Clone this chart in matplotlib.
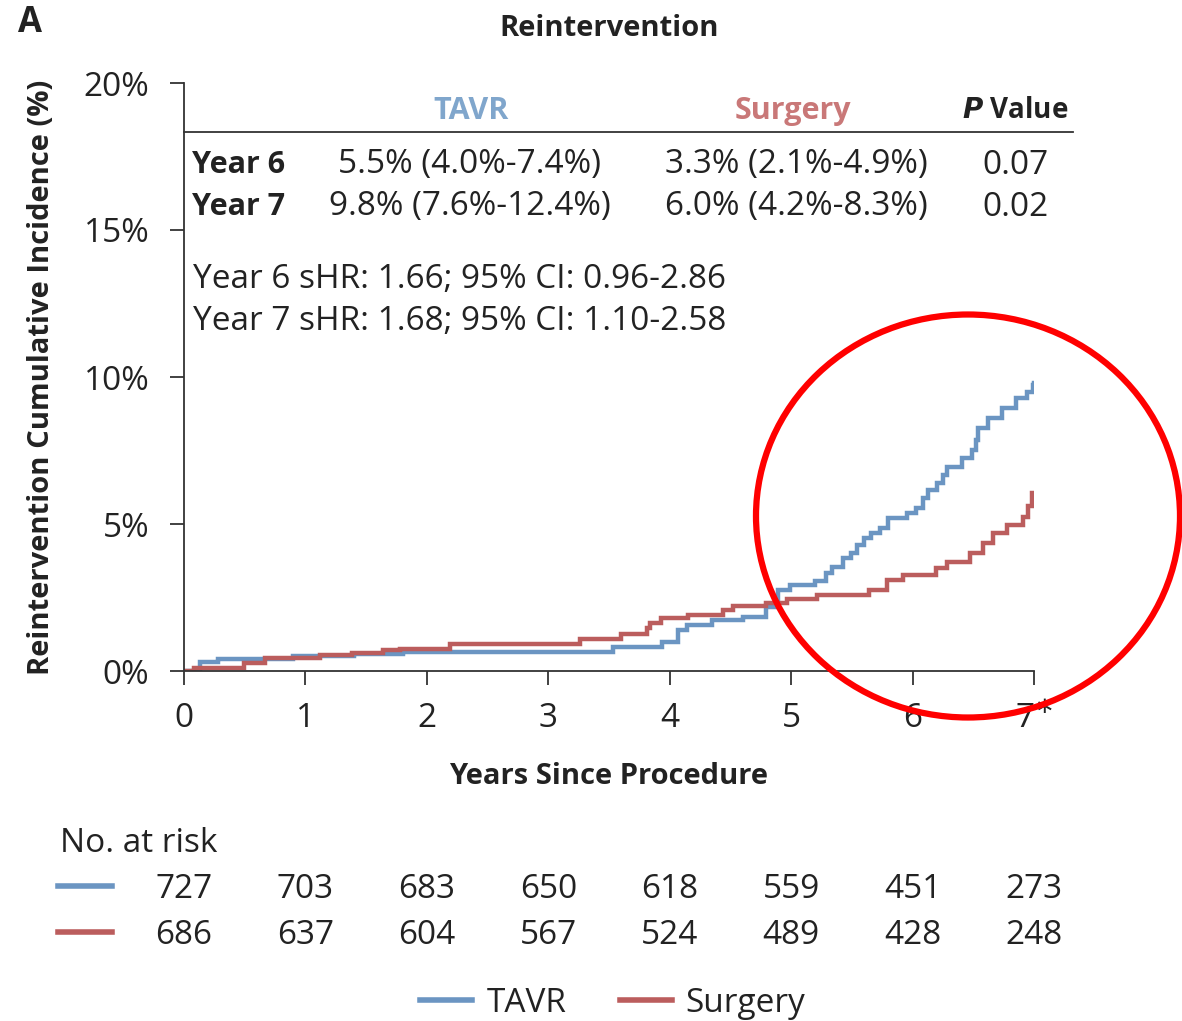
import matplotlib
matplotlib.use("Agg")
import matplotlib.pyplot as plt
from matplotlib.patches import Ellipse
import numpy as np

plt.rcParams['font.family'] = ['Open Sans', 'DejaVu Sans']

# ---- data ----
tavr_t = [0.0, 0.13, 0.28, 0.9, 1.4, 1.8, 3.53, 3.94, 4.07, 4.14, 4.35, 4.6, 4.79, 4.89, 4.99,
          5.2, 5.29, 5.34, 5.43, 5.49, 5.54, 5.6, 5.66, 5.73, 5.8, 5.95, 6.03, 6.09, 6.13,
          6.2, 6.25, 6.28, 6.41, 6.49, 6.52, 6.54, 6.62, 6.74, 6.85, 6.94, 6.99, 7.0]
tavr_y = [0.0, 0.32, 0.41, 0.50, 0.58, 0.66, 0.83, 1.0, 1.39, 1.56, 1.73, 1.84, 2.18, 2.75, 2.92,
          3.07, 3.33, 3.55, 3.84, 4.0, 4.29, 4.52, 4.69, 4.86, 5.2, 5.37, 5.54, 5.88, 6.16,
          6.39, 6.67, 6.95, 7.24, 7.52, 7.86, 8.26, 8.6, 8.94, 9.28, 9.5, 9.73, 9.8]
surg_t = [0.0, 0.08, 0.49, 0.67, 1.12, 1.38, 1.64, 1.78, 2.19, 3.26, 3.6, 3.81, 3.84, 3.93,
          4.15, 4.44, 4.52, 4.79, 4.97, 5.21, 5.64, 5.79, 5.92, 6.19, 6.28, 6.47, 6.58, 6.66,
          6.78, 6.91, 6.95, 6.98, 7.0]
surg_y = [0.0, 0.1, 0.28, 0.45, 0.54, 0.62, 0.70, 0.76, 0.92, 1.09, 1.25, 1.45, 1.62, 1.79,
          1.9, 2.07, 2.21, 2.32, 2.45, 2.58, 2.75, 3.1, 3.27, 3.5, 3.72, 4.0, 4.37, 4.69,
          4.96, 5.25, 5.6, 6.05, 6.05]

years = [0, 1, 2, 3, 4, 5, 6, 7]
xtick_labels = ['0', '1', '2', '3', '4', '5', '6', r'7$^{\ast}$']
yticks = [0, 5, 10, 15, 20]
risk_tavr = [727, 703, 683, 650, 618, 559, 451, 273]
risk_surg = [686, 637, 604, 567, 524, 489, 428, 248]

table_rows = ['Year 6', 'Year 7']
tavr_est = ['5.5% (4.0%-7.4%)', '9.8% (7.6%-12.4%)']
surg_est = ['3.3% (2.1%-4.9%)', '6.0% (4.2%-8.3%)']
pvals = ['0.07', '0.02']
shr_lines = ['Year 6 sHR: 1.66; 95% CI: 0.96-2.86', 'Year 7 sHR: 1.68; 95% CI: 1.10-2.58']

BLUE = '#6b95c2'
RED = '#bb5d5d'
BLUE_T = '#80a6cc'
RED_T = '#c97878'
TXT = '#222222'

FS = 24   # regular text
FB = 21   # bold labels
DY = 3    # vertical text offset (px)

W, H = 1182, 1021
fig = plt.figure(figsize=(W / 100, H / 100), dpi=100)

def fx(px):
    return px / W

def fy(py):
    return 1 - py / H

ax = fig.add_axes([fx(184), fy(671), fx(1034) - fx(184), fy(83) - fy(671)])
ax.step(tavr_t, tavr_y, where='post', color=BLUE, lw=3.2, solid_joinstyle='miter')
ax.step(surg_t, surg_y, where='post', color=RED, lw=3.2, solid_joinstyle='miter')
ax.set_xlim(0, 7)
ax.set_ylim(0, 20)
ax.spines['top'].set_visible(False)
ax.spines['right'].set_visible(False)
for s in ['left', 'bottom']:
    ax.spines[s].set_color('#333333')
    ax.spines[s].set_linewidth(1.3)
ax.set_xticks(years)
ax.set_xticklabels(xtick_labels)
ax.set_yticks(yticks)
ax.set_yticklabels([f'{v}%' for v in yticks])
ax.tick_params(axis='both', direction='out', length=10, width=1.3, color='#333333',
               labelsize=FS, labelcolor=TXT)
ax.tick_params(axis='y', pad=15)
ax.tick_params(axis='x', pad=12)
ax.set_xlabel('Years Since Procedure', fontsize=FB, fontweight='bold', color=TXT, labelpad=20)
ax.set_ylabel('Reintervention Cumulative Incidence (%)', fontsize=FB, fontweight='bold',
              color=TXT, labelpad=20)

# title and panel letter
fig.text(fx(609), fy(29), 'Reintervention', ha='center', va='center', fontsize=FB,
         fontweight='bold', color=TXT)
fig.text(fx(18), fy(23), 'A', ha='left', va='center', fontsize=25, fontweight='bold', color=TXT)

# table
fig.text(fx(471), fy(111), 'TAVR', ha='center', va='center', fontsize=22, fontweight='bold', color=BLUE_T)
fig.text(fx(793), fy(111), 'Surgery', ha='center', va='center', fontsize=22, fontweight='bold', color=RED_T)
fig.text(fx(1068), fy(110), r'$\bfit{P}$ Value', ha='right', va='center', fontsize=20,
         fontweight='bold', color=TXT)
fig.add_artist(plt.Line2D([fx(184), fx(1073)], [fy(132), fy(132)], color='#333333', lw=1.3))
row_y = [162, 204]
for i in range(2):
    fig.text(fx(192), fy(row_y[i] + DY), table_rows[i], ha='left', va='center', fontsize=22,
             fontweight='bold', color=TXT)
    fig.text(fx(470), fy(row_y[i] + DY), tavr_est[i], ha='center', va='center', fontsize=FS, color=TXT)
    fig.text(fx(796), fy(row_y[i] + DY), surg_est[i], ha='center', va='center', fontsize=FS, color=TXT)
    fig.text(fx(1015), fy(row_y[i] + DY), pvals[i], ha='center', va='center', fontsize=FS, color=TXT)
for i, s in enumerate(shr_lines):
    fig.text(fx(193), fy(276 + 42 * i + DY), s, ha='left', va='center', fontsize=FS, color=TXT)

# number at risk
fig.text(fx(60), fy(840 + DY), 'No. at risk', ha='left', va='center', fontsize=FS, color=TXT)
for row, (vals, col) in enumerate([(risk_tavr, BLUE), (risk_surg, RED)]):
    yy = 886 + 46 * row
    fig.add_artist(plt.Line2D([fx(58), fx(112)], [fy(yy), fy(yy)], color=col, lw=4))
    for yr, v in zip(years, vals):
        xpix = 184 + yr * (1034 - 184) / 7
        fig.text(fx(xpix), fy(yy + DY), str(v), ha='center', va='center', fontsize=FS, color=TXT)

# legend
fig.add_artist(plt.Line2D([fx(420), fx(472)], [fy(1000), fy(1000)], color=BLUE, lw=4))
fig.text(fx(487), fy(1000 + DY), 'TAVR', ha='left', va='center', fontsize=FS, color=TXT)
fig.add_artist(plt.Line2D([fx(620), fx(672)], [fy(1000), fy(1000)], color=RED, lw=4))
fig.text(fx(685), fy(1000 + DY), 'Surgery', ha='left', va='center', fontsize=FS, color=TXT)

# red highlight circle
ell = Ellipse((fx(968), fy(516)), width=(1180 - 756) / W, height=(718 - 315) / H,
              transform=fig.transFigure, fill=False, edgecolor='#ff0000', lw=4.5)
fig.add_artist(ell)

fig.savefig('out.png', dpi=100, facecolor='white')
